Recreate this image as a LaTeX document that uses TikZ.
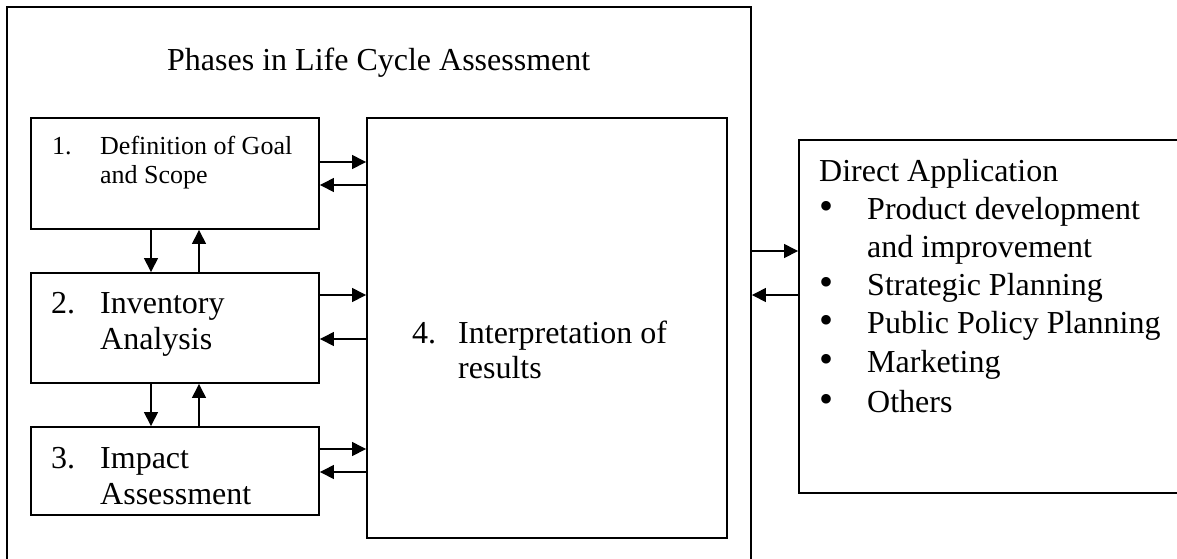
\documentclass[tikz,border=0pt]{standalone}
\usepackage{fontspec}
\setmainfont{Liberation Serif}
\usetikzlibrary{arrows.meta}
\begin{document}
\begin{tikzpicture}[x=1pt,y=-1pt,
  panel/.style={draw, line width=1.9pt, inner sep=0pt},
  arr/.style={line width=1.4pt, -{Triangle[length=14pt,width=14pt]}},
  big/.style={font=\fontsize{32}{36}\selectfont, anchor=base west, inner sep=0pt},
  small/.style={font=\fontsize{26}{29}\selectfont, anchor=base west, inner sep=0pt},
  dot/.style={font=\fontsize{40}{40}\selectfont, anchor=center, inner sep=0pt}]
\useasboundingbox (0,0) rectangle (1177,558);
\clip (0,0) rectangle (1177,558);

% frames
\node[panel, minimum width=744pt, minimum height=580pt] (outer) at (379,297) {};
\node[panel, minimum width=401pt, minimum height=353pt] (apps) at (999.5,316.5) {};
\node[panel, minimum width=288pt, minimum height=111pt] (b1) at (175,173.5) {};
\node[panel, minimum width=288pt, minimum height=110pt] (b2) at (175,328) {};
\node[panel, minimum width=288pt, minimum height=88pt] (b3) at (175,471) {};
\node[panel, minimum width=360pt, minimum height=420pt] (b4) at (547,328) {};

% texts
\node[big] (title) at (167,70) {Phases in Life Cycle Assessment};

\node[small] (n1) at (52,154) {1.};
\node[small] (t1a) at (100,154) {Definition of Goal};
\node[small] (t1b) at (100,183) {and Scope};

\node[big] (n2) at (51,313) {2.};
\node[big] (t2a) at (100,313) {Inventory};
\node[big] (t2b) at (100,349) {Analysis};

\node[big] (n3) at (51,468) {3.};
\node[big] (t3a) at (100,468) {Impact};
\node[big] (t3b) at (100,504) {Assessment};

\node[big] (n4) at (412,343) {4.};
\node[big] (t4a) at (458,343) {Interpretation of};
\node[big] (t4b) at (458,378) {results};

\node[big] (da) at (819,181) {Direct Application};
\foreach \yy/\txt/\bul in {219/Product development/1, 257/and improvement/0,
    295/Strategic Planning/1, 333/Public Policy Planning/1,
    372/Marketing/1, 412/Others/1}{
  \ifnum\bul=1 \node[dot] at (826.5,\yy-8.5) {\textbullet};\fi
  \node[big] at (867,\yy) {\txt};
}

% connector levels
\coordinate (r1a) at (0,162);
\coordinate (r1b) at (0,185);
\coordinate (r2a) at (0,295);
\coordinate (r2b) at (0,339);
\coordinate (r3a) at (0,449);
\coordinate (r3b) at (0,472);
\coordinate (ra) at (0,251);
\coordinate (rb) at (0,295);
\coordinate (xd) at (151,0);
\coordinate (xu) at (199,0);

% phases <-> interpretation
\draw[arr] (b1.east |- r1a) -- (b4.west |- r1a);
\draw[arr] (b4.west |- r1b) -- (b1.east |- r1b);
\draw[arr] (b2.east |- r2a) -- (b4.west |- r2a);
\draw[arr] (b4.west |- r2b) -- (b2.east |- r2b);
\draw[arr] (b3.east |- r3a) -- (b4.west |- r3a);
\draw[arr] (b4.west |- r3b) -- (b3.east |- r3b);

% between phases
\draw[arr] (b1.south -| xd) -- (b2.north -| xd);
\draw[arr] (b2.north -| xu) -- (b1.south -| xu);
\draw[arr] (b2.south -| xd) -- (b3.north -| xd);
\draw[arr] (b3.north -| xu) -- (b2.south -| xu);

% LCA <-> applications
\draw[arr] (outer.east |- ra) -- (apps.west |- ra);
\draw[arr] (apps.west |- rb) -- (outer.east |- rb);
\end{tikzpicture}
\end{document}
